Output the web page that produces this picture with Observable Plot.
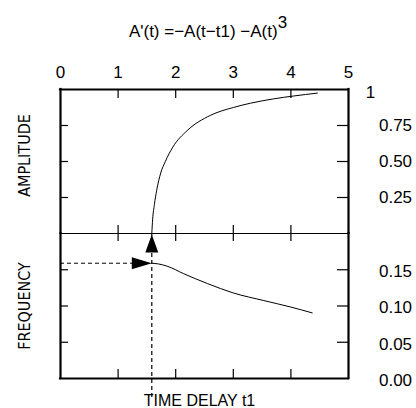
<!DOCTYPE html>
<html><head><meta charset="utf-8">
<script src="https://cdn.jsdelivr.net/npm/d3@7"></script>
<script src="https://cdn.jsdelivr.net/npm/@observablehq/plot@0.6"></script>
<style>
body{margin:0;background:#fff;}
#wrap{position:relative;width:416px;height:408px;font-family:"Liberation Sans",Arial,sans-serif;color:#000;}
#wrap svg{position:absolute;left:0;top:0;}
#title{position:absolute;left:0;width:416px;top:20px;text-align:center;font-size:17px;line-height:24px;}
#title sup{font-size:17px;vertical-align:0;position:relative;top:-9px;}
</style></head><body>
<div id="wrap"><div id="title">A'(t) =−A(t−t1) −A(t)<sup>3</sup></div></div>
<script>
// --- data ---
const delayTicks = [0, 1, 2, 3, 4, 5];
const ampTicks = [0.25, 0.5, 0.75];
const ampTopTick = [1];
const freqTicks = [0, 0.05, 0.10, 0.15];
const ampDomain = [0, 1];
const freqDomain = [0, 0.2];

const ampDelay = [1.585, 1.6, 1.63, 1.67, 1.74, 1.82, 1.95, 2.2, 2.6, 3.0, 3.3, 3.7, 4.05, 4.46];
const ampValue = [0, 0.1, 0.2, 0.3, 0.42, 0.5, 0.6, 0.715, 0.82, 0.875, 0.905, 0.935, 0.955, 0.975];

const freqDelay = [1.585, 1.7, 1.85, 2.14, 2.55, 3.0, 3.53, 4.0, 4.37];
const freqValue = [0.159, 0.158, 0.155, 0.1445, 0.131, 0.118, 0.1075, 0.0985, 0.0905];

const ampData = ampDelay.map((t, i) => ({delay: t, amp: ampValue[i]}));
const freqData = freqDelay.map((t, i) => ({delay: t, freq: freqValue[i]}));
const onset = {delay: ampDelay[0], freq: freqValue[0], top: freqDomain[1]};

// custom arrow-head symbols
const upArrow = {draw(ctx) { ctx.moveTo(0, 1); ctx.lineTo(6.5, 19); ctx.lineTo(-6.5, 19); ctx.closePath(); }};
const rightArrow = {draw(ctx) { ctx.moveTo(0, 0); ctx.lineTo(-20, -6); ctx.lineTo(-20, 6); ctx.closePath(); }};

const W = 416, H = 408;
const font = "'Liberation Sans', Arial, sans-serif";
const narrow = "'Liberation Sans Narrow', 'DejaVu Sans Condensed', 'Liberation Sans', sans-serif";
const common = {
  width: W, height: H, marginLeft: 60, marginRight: 68,
  style: {background: "transparent", fontFamily: font, fontSize: "17px", color: "#000", overflow: "visible"}
};
const inner = delayTicks.slice(1, -1);

const topPlot = Plot.plot({
  ...common,
  marginTop: 89, marginBottom: 175,
  x: {domain: [0, 5], axis: null},
  y: {domain: ampDomain, axis: null},
  marks: [
    Plot.axisX(delayTicks, {anchor: "top", tickSize: 0, tickPadding: 12, tickFormat: d => String(d), label: null}),
    Plot.text(ampTicks, {y: d => d, text: d => d.toFixed(2), frameAnchor: "right", textAnchor: "middle", dx: 47}),
    Plot.text(ampTopTick, {y: d => d, text: d => String(d), frameAnchor: "right", textAnchor: "middle", dx: 22, dy: 3}),
    Plot.tickX(inner, {insetBottom: 135, strokeWidth: 1.2}),
    Plot.tickX(inner, {insetTop: 136, strokeWidth: 1.2}),
    Plot.tickY(ampTicks, {insetRight: 280, strokeWidth: 1.2}),
    Plot.tickY(ampTicks, {insetLeft: 277, strokeWidth: 1.2}),
    Plot.ruleY([0], {strokeWidth: 1}),
    Plot.ruleY([1], {strokeWidth: 2.2, strokeLinecap: "square"}),
    Plot.ruleX([0, 5], {strokeWidth: 2.2, strokeLinecap: "square"}),
    Plot.line(ampData, {x: "delay", y: "amp", curve: "monotone-x", strokeWidth: 1}),
    Plot.text(["AMPLITUDE"], {text: d => d, frameAnchor: "left", textAnchor: "middle", dx: -36, dy: -6, rotate: -90, fontSize: 16, fontFamily: narrow})
  ]
});

const botPlot = Plot.plot({
  ...common,
  marginTop: 233, marginBottom: 30,
  x: {domain: [0, 5], axis: null},
  y: {domain: freqDomain, axis: null},
  marks: [
    Plot.text(freqTicks, {y: d => d, text: d => d.toFixed(2), frameAnchor: "right", textAnchor: "middle", dx: 47, dy: 2}),
    Plot.tickX(inner, {insetTop: 136, strokeWidth: 1.2}),
    Plot.tickX(inner, {insetBottom: 137, strokeWidth: 1.2}),
    Plot.tickY(freqTicks.slice(1), {insetRight: 280, strokeWidth: 1.2}),
    Plot.tickY(freqTicks.slice(1), {insetLeft: 277, strokeWidth: 1.2}),
    Plot.ruleY([0], {strokeWidth: 2.2, strokeLinecap: "square"}),
    Plot.ruleX([0, 5], {strokeWidth: 2.2, strokeLinecap: "square"}),
    Plot.ruleY([onset], {y: "freq", x1: () => 0, x2: d => d.delay, strokeDasharray: "4,3", strokeWidth: 1}),
    Plot.ruleX([onset], {x: "delay", y1: () => 0, y2: d => d.top, insetTop: 19, strokeDasharray: "4,3", strokeWidth: 1.2}),
    Plot.line(freqData, {x: "delay", y: "freq", curve: "monotone-x", strokeWidth: 1}),
    Plot.dot([onset], {x: "delay", y: "top", symbol: upArrow, fill: "black", stroke: "none"}),
    Plot.dot([onset], {x: "delay", y: "freq", symbol: rightArrow, fill: "black", stroke: "none"}),
    Plot.text(["FREQUENCY"], {text: d => d, frameAnchor: "left", textAnchor: "middle", dx: -36, dy: 0, rotate: -90, fontSize: 16, fontFamily: narrow}),
    Plot.text(["TIME DELAY t1"], {text: d => d, frameAnchor: "bottom", textAnchor: "middle", dy: 27, dx: -5, fontSize: 16})
  ]
});

const wrap = document.getElementById("wrap");
wrap.appendChild(topPlot);
wrap.appendChild(botPlot);
</script>
</body></html>
